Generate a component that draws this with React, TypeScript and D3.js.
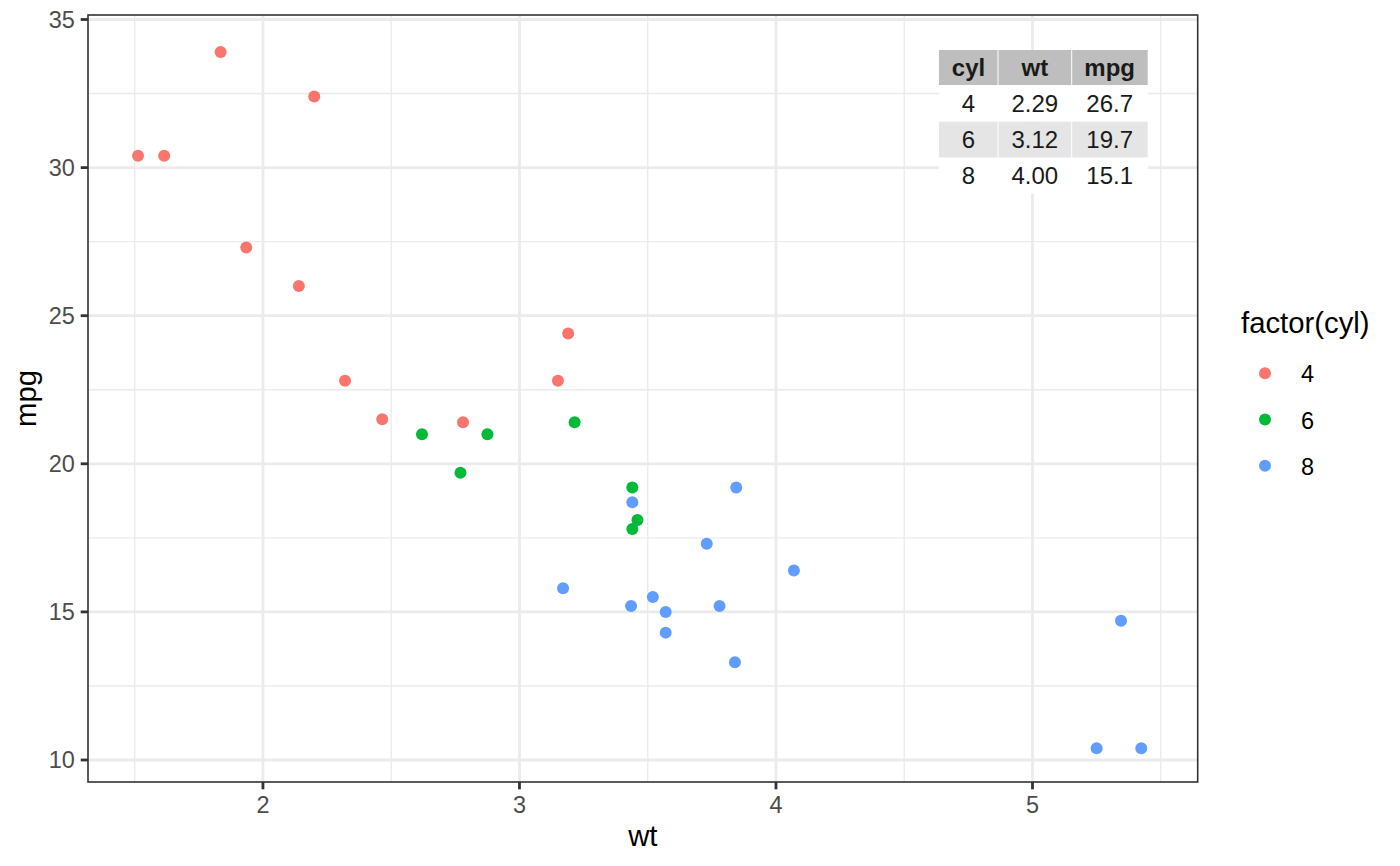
import React from "react";
import * as d3 from "d3";

// mtcars: weight (1000 lbs), mpg, cylinders
const wt = [2.62, 2.875, 2.32, 3.215, 3.44, 3.46, 3.57, 3.19, 3.15, 3.44, 3.44, 4.07, 3.73, 3.78, 5.25, 5.424, 5.345, 2.2, 1.615, 1.835, 2.465, 3.52, 3.435, 3.84, 3.845, 1.935, 2.14, 1.513, 3.17, 2.77, 3.57, 2.78];
const mpg = [21.0, 21.0, 22.8, 21.4, 18.7, 18.1, 14.3, 24.4, 22.8, 19.2, 17.8, 16.4, 17.3, 15.2, 10.4, 10.4, 14.7, 32.4, 30.4, 33.9, 21.5, 15.5, 15.2, 13.3, 19.2, 27.3, 26.0, 30.4, 15.8, 19.7, 15.0, 21.4];
const cyl = [6, 6, 4, 6, 8, 6, 8, 4, 4, 6, 6, 8, 8, 8, 8, 8, 8, 4, 4, 4, 4, 8, 8, 8, 8, 4, 4, 4, 8, 6, 8, 4];

const cylLevels = ["4", "6", "8"];
const cylColors = ["#F8766D", "#00BA38", "#619CFF"];

const xTicks = [2, 3, 4, 5];
const xMinor = [1.5, 2.5, 3.5, 4.5, 5.5];
const yTicks = [10, 15, 20, 25, 30, 35];
const yMinor = [12.5, 17.5, 22.5, 27.5, 32.5];

const tableHeader = ["cyl", "wt", "mpg"];
const tableCyl = ["4", "6", "8"];
const tableWt = ["2.29", "3.12", "4.00"];
const tableMpg = ["26.7", "19.7", "15.1"];

const W = 1400;
const H = 866;
const panel = { left: 88, right: 1197.7, top: 15, bottom: 782 };
const FONT = "'Liberation Sans', Arial, sans-serif";

export default function App() {
  const x = d3.scaleLinear().domain([1.318, 5.644]).range([panel.left, panel.right]);
  const y = d3.scaleLinear().domain([9.257, 35.152]).range([panel.bottom, panel.top]);
  const color = d3.scaleOrdinal<string, string>().domain(cylLevels).range(cylColors);

  const points = wt.map((w, i) => ({ w, m: mpg[i], c: String(cyl[i]) }));

  // table layout
  const tLeft = 939;
  const tTop = 50;
  const colWidths = [59, 73.7, 76];
  const rowH = [35, 36.7, 36, 36];
  const colEdges = colWidths.reduce<number[]>((acc, w) => [...acc, acc[acc.length - 1] + w], [tLeft]);
  const rowEdges = rowH.reduce<number[]>((acc, h) => [...acc, acc[acc.length - 1] + h], [tTop]);
  const tRight = colEdges[colEdges.length - 1];
  const rows = tableCyl.map((c, i) => [c, tableWt[i], tableMpg[i]]);
  const tfs = 24;

  return (
    <svg width={W} height={H} style={{ position: "absolute", left: 0, top: 0, background: "#fff" }} fontFamily={FONT}>
      <rect x={0} y={0} width={W} height={H} fill="#fff" />
      {/* grid */}
      <g>
        {xMinor.map((v) => (
          <line key={"xm" + v} x1={x(v)} x2={x(v)} y1={panel.top} y2={panel.bottom} stroke="#EBEBEB" strokeWidth={1.4} />
        ))}
        {yMinor.map((v) => (
          <line key={"ym" + v} y1={y(v)} y2={y(v)} x1={panel.left} x2={panel.right} stroke="#EBEBEB" strokeWidth={1.4} />
        ))}
        {xTicks.map((v) => (
          <line key={"xM" + v} x1={x(v)} x2={x(v)} y1={panel.top} y2={panel.bottom} stroke="#EBEBEB" strokeWidth={2.8} />
        ))}
        {yTicks.map((v) => (
          <line key={"yM" + v} y1={y(v)} y2={y(v)} x1={panel.left} x2={panel.right} stroke="#EBEBEB" strokeWidth={2.8} />
        ))}
      </g>
      {/* points */}
      <g>
        {points.map((p, i) => (
          <circle key={i} cx={x(p.w)} cy={y(p.m)} r={6} fill={color(p.c)} />
        ))}
      </g>
      {/* table */}
      <g>
        {[0, 1, 2, 3].map((r) => (
          <rect
            key={"tr" + r}
            x={tLeft}
            y={rowEdges[r]}
            width={tRight - tLeft}
            height={rowEdges[r + 1] - rowEdges[r]}
            fill={r === 0 ? "#BEBEBE" : r === 2 ? "#E5E5E5" : "#FFFFFF"}
          />
        ))}
        {[1, 2].map((c) => (
          <line key={"tsep" + c} x1={colEdges[c]} x2={colEdges[c]} y1={rowEdges[0]} y2={rowEdges[4]} stroke="#FFFFFF" strokeWidth={1} />
        ))}
        {tableHeader.map((h, c) => (
          <text
            key={"th" + c}
            x={(colEdges[c] + colEdges[c + 1]) / 2}
            y={(rowEdges[0] + rowEdges[1]) / 2 + tfs * 0.358}
            textAnchor="middle"
            fontSize={tfs}
            fontWeight="bold"
            fill="#1a1a1a"
          >
            {h}
          </text>
        ))}
        {rows.map((row, r) =>
          row.map((v, c) => (
            <text
              key={"td" + r + "-" + c}
              x={(colEdges[c] + colEdges[c + 1]) / 2}
              y={(rowEdges[r + 1] + rowEdges[r + 2]) / 2 + tfs * 0.358}
              textAnchor="middle"
              fontSize={tfs}
              fill="#1a1a1a"
            >
              {v}
            </text>
          ))
        )}
      </g>
      {/* panel border */}
      <rect
        x={panel.left}
        y={panel.top}
        width={panel.right - panel.left}
        height={panel.bottom - panel.top}
        fill="none"
        stroke="#333333"
        strokeWidth={1.6}
      />
      {/* axes ticks */}
      <g>
        {xTicks.map((v) => (
          <g key={"xt" + v}>
            <line x1={x(v)} x2={x(v)} y1={panel.bottom} y2={panel.bottom + 7.3} stroke="#333333" strokeWidth={2.8} />
            <text x={x(v)} y={812.7} textAnchor="middle" fontSize={23.5} fill="#4D4D4D">
              {v}
            </text>
          </g>
        ))}
        {yTicks.map((v) => (
          <g key={"yt" + v}>
            <line x1={panel.left - 7.3} x2={panel.left} y1={y(v)} y2={y(v)} stroke="#333333" strokeWidth={2.8} />
            <text x={74.8} y={y(v) + 8.4} textAnchor="end" fontSize={23.5} fill="#4D4D4D">
              {v}
            </text>
          </g>
        ))}
      </g>
      {/* axis titles */}
      <text x={(panel.left + panel.right) / 2} y={846} textAnchor="middle" fontSize={29.3} fill="#000">
        wt
      </text>
      <text
        transform={`translate(35.5, ${(panel.top + panel.bottom) / 2}) rotate(-90)`}
        textAnchor="middle"
        fontSize={29.3}
        fill="#000"
      >
        mpg
      </text>
      {/* legend */}
      <g>
        <text x={1241} y={333} fontSize={29.3} fill="#000">
          factor(cyl)
        </text>
        {cylLevels.map((lv, i) => {
          const cy = 373.3 + i * 46.2;
          return (
            <g key={"lg" + lv}>
              <circle cx={1265} cy={cy} r={6} fill={color(lv)} />
              <text x={1301} y={cy + 9} fontSize={23.5} fill="#000">
                {lv}
              </text>
            </g>
          );
        })}
      </g>
    </svg>
  );
}
